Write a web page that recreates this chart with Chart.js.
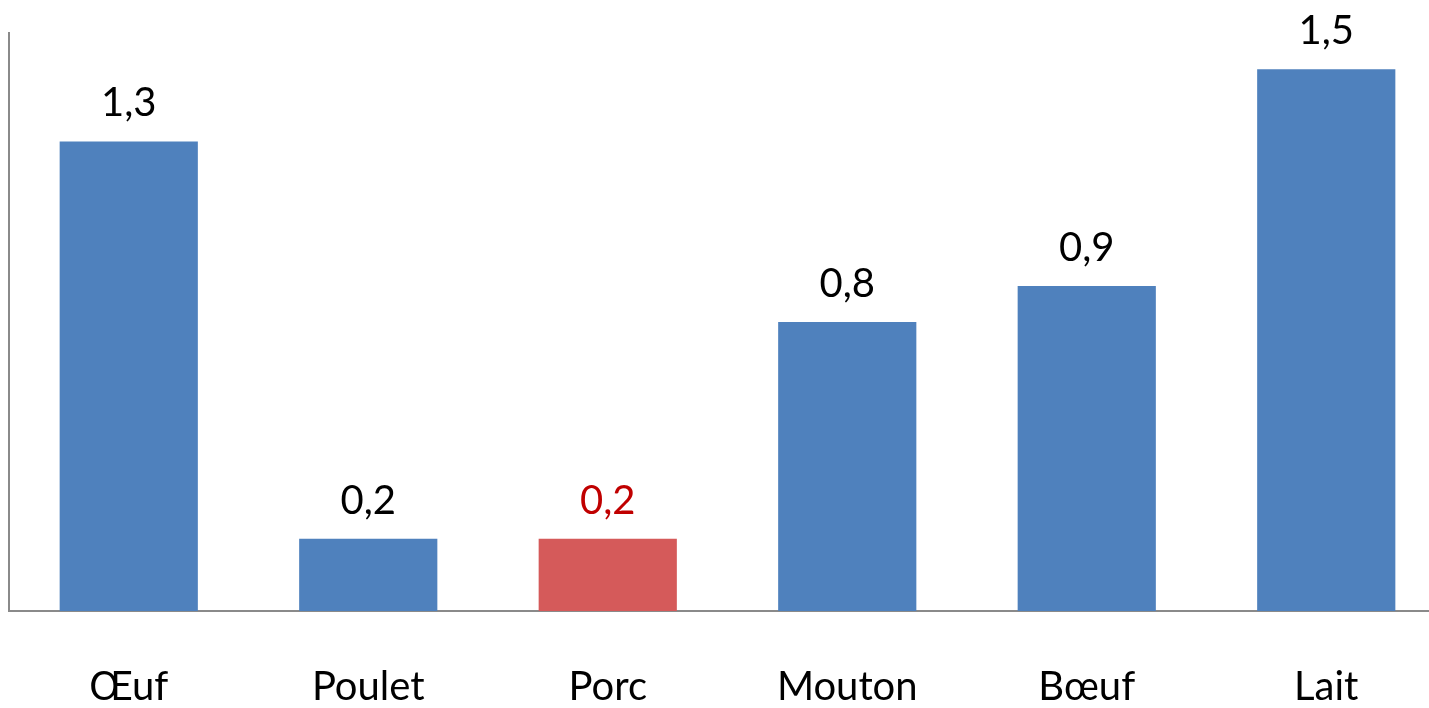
<!DOCTYPE html>
<html>
<head>
<meta charset="utf-8">
<script src="https://cdn.jsdelivr.net/npm/chart.js@4"></script>
<style>
    html, body { margin: 0; padding: 0; background: #fff; overflow: hidden; }
    .wrap { width: 1446px; height: 708px; }
</style>
</head>
<body>
<div class="wrap"><canvas id="c" width="1446" height="708"></canvas></div>
<script>
const categories = ["Œuf", "Poulet", "Porc", "Mouton", "Bœuf", "Lait"]
const values = [1.3, 0.2, 0.2, 0.8, 0.9, 1.5]
const highlight = "Porc"

const BLUE = "#4f81bd"
const RED_BAR = "#d55a5a"
const RED_TEXT = "#c00000"
const AXIS = "#8a8a8a"
const FONT = "Lato, 'Open Sans', sans-serif"

// value labels above each bar, french decimal comma
const valueLabels = {
    id: "valueLabels",
    afterDatasetsDraw(chart) {
        let ctx = chart.ctx
        let meta = chart.getDatasetMeta(0)
        ctx.save()
        ctx.font = "40px " + FONT
        ctx.textAlign = "center"
        ctx.textBaseline = "middle"
        meta.data.forEach((bar, i) => {
            ctx.fillStyle = categories[i] === highlight ? RED_TEXT : "#000"
            let txt = values[i].toFixed(1).replace(".", ",")
            ctx.fillText(txt, bar.x, bar.y - 38)
        })
        ctx.restore()
    }
}

new Chart(document.getElementById("c"), {
    type: "bar",
    data: {
        labels: categories,
        datasets: [{
            data: values,
            backgroundColor: categories.map(c => c === highlight ? RED_BAR : BLUE),
            categoryPercentage: 1,
            barPercentage: 0.577
        }]
    },
    options: {
        responsive: false,
        animation: false,
        devicePixelRatio: 1,
        layout: { padding: { left: 1, top: 33, right: 0, bottom: 0 } },
        plugins: { legend: { display: false }, tooltip: { enabled: false } },
        scales: {
            x: {
                grid: { display: false },
                border: { display: true, color: AXIS, width: 2 },
                ticks: { color: "#000", font: { family: FONT, size: 40 }, padding: 44 },
                afterFit(scale) { scale.height = 97 }
            },
            y: {
                min: 0,
                max: 1.6,
                grid: { display: false },
                border: { display: true, color: AXIS, width: 2 },
                ticks: { display: false }
            }
        }
    },
    plugins: [valueLabels]
})
</script>
</body>
</html>
